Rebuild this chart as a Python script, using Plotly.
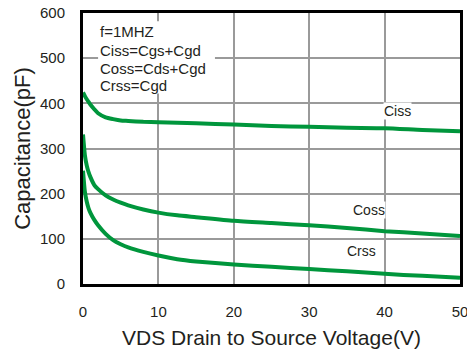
import plotly.graph_objects as go

# Drain-source voltage (V) sample points
vds = [0, 0.25, 0.5, 0.75, 1, 1.5, 2, 3, 4, 5, 6, 8, 10, 12.5, 15, 20, 25, 30, 35, 40, 45, 50]

# Capacitances (pF) at f = 1 MHz
ciss = [424, 416, 409, 403, 397, 387, 378, 369, 365, 362, 361, 359, 358, 357, 356, 353, 350, 348, 346, 345, 341, 338]
coss = [331, 285, 262, 247, 236, 219, 210, 196, 187, 180, 174, 165, 158, 152, 148, 140, 135, 130, 124, 117, 112, 106]
crss = [251, 204, 182, 167, 157, 142, 130, 111, 97, 88, 81, 71, 63, 55, 50, 43, 38, 33, 28, 22.5, 18, 14]

x_ticks = [0, 10, 20, 30, 40, 50]
y_ticks = [0, 100, 200, 300, 400, 500, 600]

note_lines = ["f=1MHZ", "Ciss=Cgs+Cgd", "Coss=Cds+Cgd", "Crss=Cgd"]

GREEN = "#00963C"
TEXT = "#231f20"
FONT = "Liberation Sans, Arial, sans-serif"

fig = go.Figure()
for name, ys in [("Ciss", ciss), ("Coss", coss), ("Crss", crss)]:
    fig.add_trace(go.Scatter(
        x=vds, y=ys, mode="lines", name=name,
        line=dict(color=GREEN, width=4, shape="spline", smoothing=0.6),
        showlegend=False,
    ))

# white panel behind the test-condition note (hides grid lines)
fig.add_shape(type="rect", x0=2.0, x1=17.5, y0=422, y1=582,
              fillcolor="white", line=dict(width=0), layer="between")

note_y = [558, 518, 478, 440]
for txt, yy in zip(note_lines, note_y):
    fig.add_annotation(x=2.0, y=yy, text=txt, showarrow=False,
                       xanchor="left", yanchor="middle",
                       font=dict(family=FONT, size=15, color=TEXT))

# curve labels
fig.add_annotation(x=39.85, y=383, text="Ciss", showarrow=False, xanchor="left",
                   yanchor="middle", bgcolor="white", borderpad=0,
                   font=dict(family=FONT, size=14, color=TEXT))
fig.add_annotation(x=40.15, y=164, text="Coss", showarrow=False, xanchor="right",
                   yanchor="middle", bgcolor="white", borderpad=0,
                   font=dict(family=FONT, size=14, color=TEXT))
fig.add_annotation(x=39.0, y=74, text="Crss", showarrow=False, xanchor="right",
                   yanchor="middle", bgcolor="white", borderpad=0,
                   font=dict(family=FONT, size=14, color=TEXT))

axis_common = dict(
    showline=True, linecolor="black", linewidth=3, mirror=True,
    showgrid=True, gridcolor="#9a9a9a", gridwidth=1.5,
    zeroline=False, ticks="", automargin=False, ticklabeloverflow="allow",
    tickfont=dict(family=FONT, size=15, color=TEXT),
)

fig.update_xaxes(range=[0, 50], tickvals=x_ticks, ticklabelstandoff=12,
                 title=dict(text="VDS Drain to Source Voltage(V)", standoff=12,
                            font=dict(family=FONT, size=21, color=TEXT)),
                 **axis_common)
fig.update_yaxes(range=[0, 600], tickvals=y_ticks, ticklabelstandoff=12,
                 title=dict(text="Capacitance(pF)", standoff=4,
                            font=dict(family=FONT, size=22, color=TEXT)),
                 **axis_common)

fig.update_layout(
    width=467, height=360,
    margin=dict(l=83, r=7, t=13, b=76),
    paper_bgcolor="white", plot_bgcolor="white",
)

fig.write_html("out.html")
